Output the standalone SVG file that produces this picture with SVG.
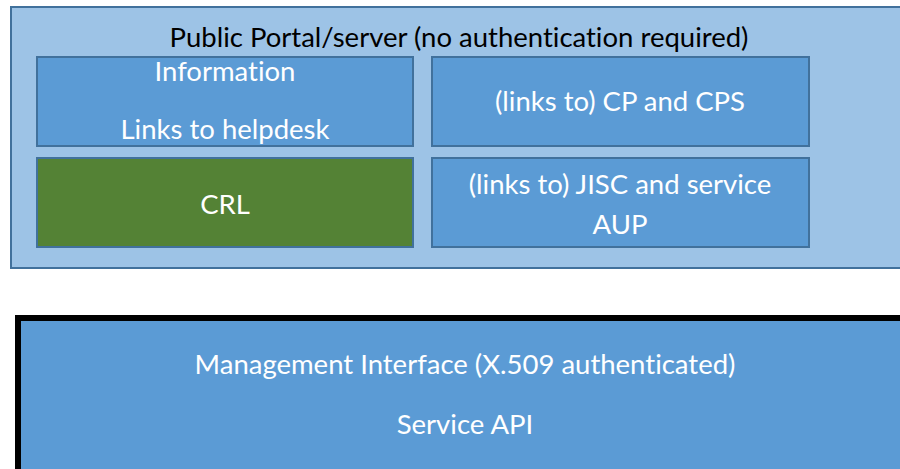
<svg xmlns="http://www.w3.org/2000/svg" width="900" height="469" viewBox="0 0 900 469">
  <style>
    .outer { fill: #9dc3e6; stroke: #41719c; stroke-width: 2; }
    .box { fill: #5b9bd5; stroke: #41719c; stroke-width: 2; }
    .green { fill: #548235; stroke: #41719c; stroke-width: 2; }
    .mgmt { fill: #5b9bd5; stroke: #000000; stroke-width: 6; }
    text { font-family: Lato, "Liberation Sans", sans-serif; font-size: 27.5px; text-anchor: middle; font-variant-ligatures: none; }
    .dark { fill: #000000; }
    .light { fill: #ffffff; }
  </style>
  <rect width="900" height="469" fill="#ffffff"/>

  <g id="public-portal">
    <rect class="outer" x="11" y="7" width="900" height="261"/>
    <text class="dark" x="459" y="47">Public Portal/server (no authentication required)</text>
  </g>

  <g id="information">
    <rect class="box" x="37" y="57" width="376" height="89"/>
    <text class="light" x="225" y="81">Information</text>
    <text class="light" x="225" y="139">Links to helpdesk</text>
  </g>

  <g id="cp-cps">
    <rect class="box" x="432" y="57" width="377" height="89"/>
    <text class="light" x="620" y="111">(links to) CP and CPS</text>
  </g>

  <g id="crl">
    <rect class="green" x="37" y="158" width="376" height="89"/>
    <text class="light" x="225" y="214">CRL</text>
  </g>

  <g id="jisc-aup">
    <rect class="box" x="432" y="158" width="377" height="89"/>
    <text class="light" x="620" y="194">(links to) JISC and service</text>
    <text class="light" x="620" y="234">AUP</text>
  </g>

  <g id="management-interface">
    <rect class="mgmt" x="18" y="318" width="900" height="200"/>
    <text class="light" x="465" y="374">Management Interface (X.509 authenticated)</text>
    <text class="light" x="465" y="434">Service API</text>
  </g>

  <g id="connectors"/>
</svg>
